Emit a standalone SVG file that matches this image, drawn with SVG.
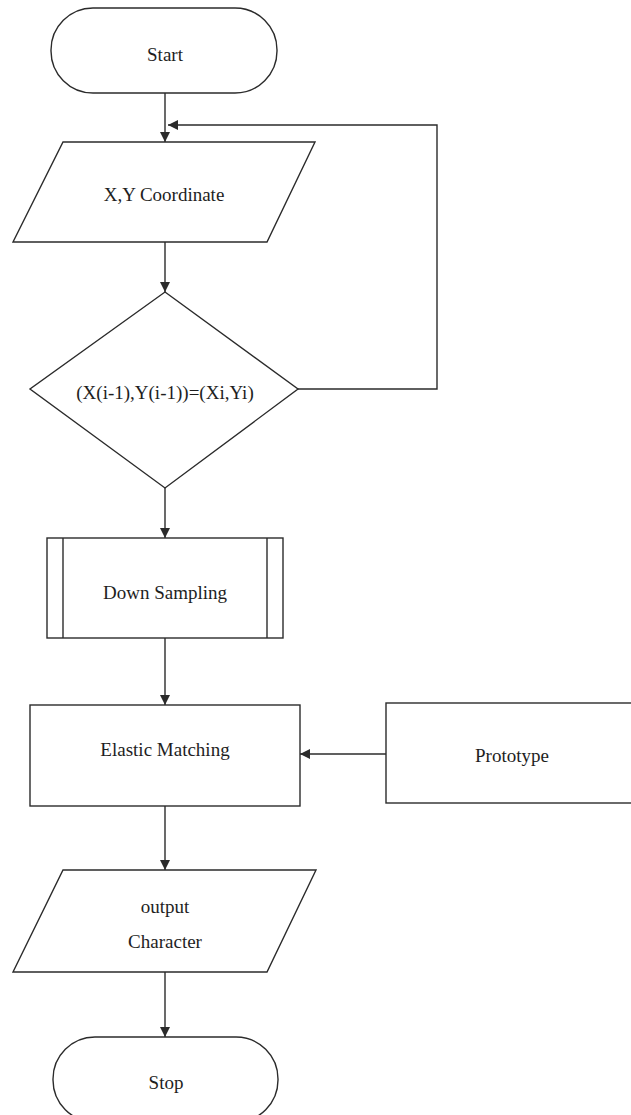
<svg xmlns="http://www.w3.org/2000/svg" width="631" height="1115" viewBox="0 0 631 1115">
  <style>
    .shape { fill: #ffffff; stroke: #2b2b2b; stroke-width: 1.4; }
    .line { fill: none; stroke: #2b2b2b; stroke-width: 1.4; }
    .label { font-family: "Liberation Serif", "Times New Roman", serif; font-size: 19px; fill: #1e1e1e; text-anchor: middle; }
  </style>
  <defs>
    <marker id="arrow" viewBox="0 0 10 10" refX="10" refY="5" markerWidth="10" markerHeight="10" markerUnits="userSpaceOnUse" orient="auto">
      <path d="M0,0 L10,5 L0,10 Z" fill="#2b2b2b"/>
    </marker>
  </defs>
  <rect width="631" height="1115" fill="#ffffff"/>

  <g id="connectors">
    <line class="line" x1="165" y1="93" x2="165" y2="142" marker-end="url(#arrow)"/>
    <polyline class="line" points="298,389 437,389 437,125 168,125" marker-end="url(#arrow)"/>
    <line class="line" x1="165" y1="242" x2="165" y2="292" marker-end="url(#arrow)"/>
    <line class="line" x1="165" y1="488" x2="165" y2="538" marker-end="url(#arrow)"/>
    <line class="line" x1="165" y1="638" x2="165" y2="705" marker-end="url(#arrow)"/>
    <line class="line" x1="386" y1="754" x2="300" y2="754" marker-end="url(#arrow)"/>
    <line class="line" x1="165" y1="806" x2="165" y2="870" marker-end="url(#arrow)"/>
    <line class="line" x1="165" y1="972" x2="165" y2="1037" marker-end="url(#arrow)"/>
  </g>

  <g id="start">
    <rect class="shape" x="51" y="8" width="226" height="85" rx="42" ry="42"/>
    <text class="label" x="165" y="61">Start</text>
  </g>

  <g id="coordinate">
    <polygon class="shape" points="63,142 315,142 267,242 13,242"/>
    <text class="label" x="164" y="201">X,Y Coordinate</text>
  </g>

  <g id="decision">
    <polygon class="shape" points="165,292 298,389 165,488 30,389"/>
    <text class="label" x="165" y="399">(X(i-1),Y(i-1))=(Xi,Yi)</text>
  </g>

  <g id="down-sampling">
    <rect class="shape" x="47" y="538" width="236" height="100"/>
    <line class="line" x1="63" y1="538" x2="63" y2="638"/>
    <line class="line" x1="267" y1="538" x2="267" y2="638"/>
    <text class="label" x="165" y="599">Down Sampling</text>
  </g>

  <g id="elastic-matching">
    <rect class="shape" x="30" y="705" width="270" height="101"/>
    <text class="label" x="165" y="756">Elastic Matching</text>
  </g>

  <g id="prototype">
    <rect class="shape" x="386" y="703" width="260" height="100"/>
    <text class="label" x="512" y="762">Prototype</text>
  </g>

  <g id="output">
    <polygon class="shape" points="63,870 316,870 267,972 13,972"/>
    <text class="label" x="165" y="913">output</text>
    <text class="label" x="165" y="948">Character</text>
  </g>

  <g id="stop">
    <rect class="shape" x="53" y="1037" width="225" height="85" rx="42" ry="42"/>
    <text class="label" x="166" y="1089">Stop</text>
  </g>
</svg>
